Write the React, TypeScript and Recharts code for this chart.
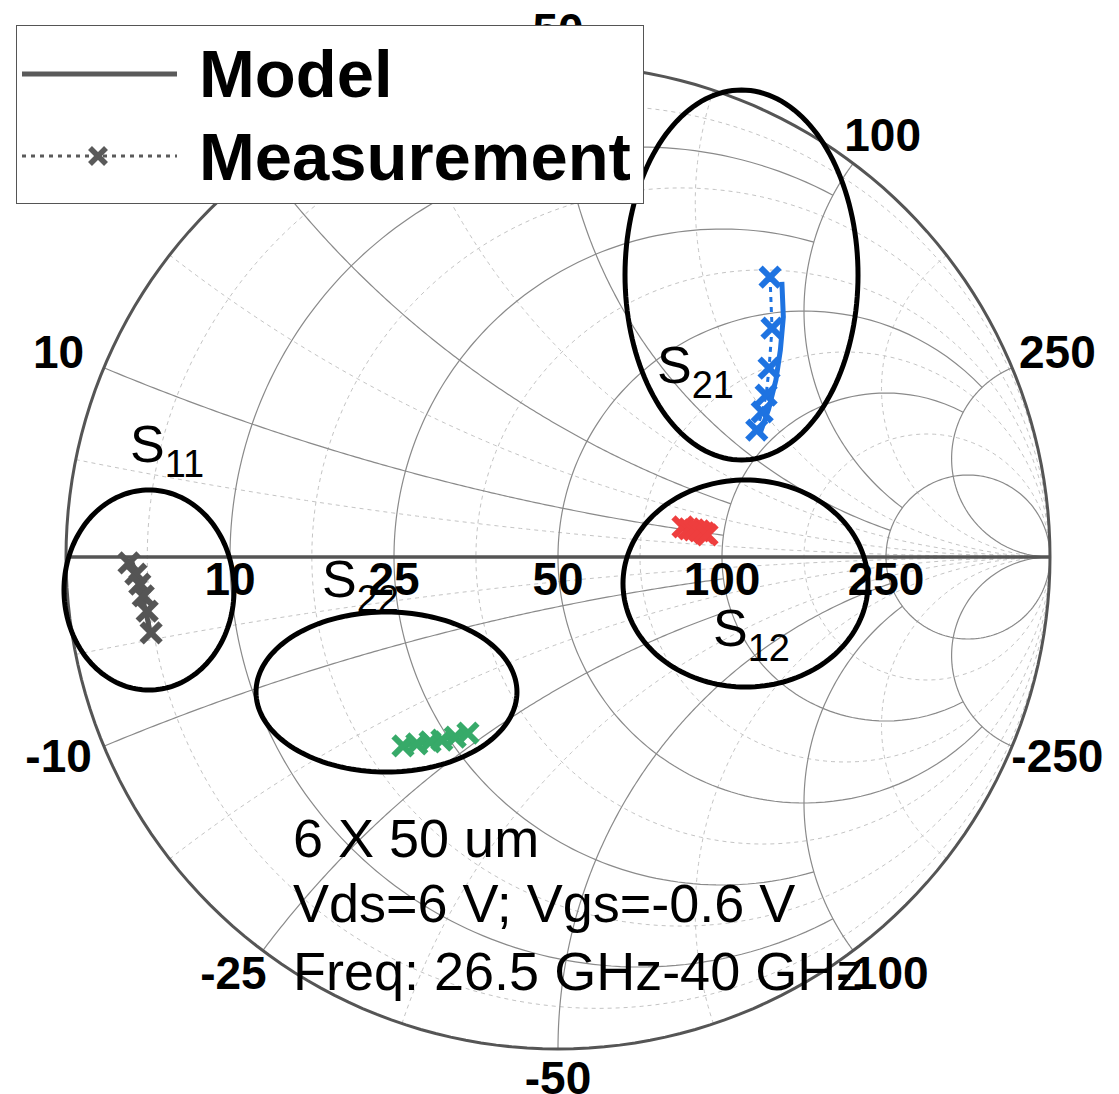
import React from "react";
import { ScatterChart, Scatter, XAxis, YAxis } from "recharts";

const FONT = "'Liberation Sans', Arial, Helvetica, sans-serif";

// chart frame: reflection-coefficient plane, 492 px per unit, centre at (550, 549)
const W = 1111;
const H = 1086;
const UNIT = 492;
const X_DOMAIN = [-550 / UNIT, (W - 550) / UNIT];
const Y_DOMAIN = [-(H - 549) / UNIT, 549 / UNIT];

// Smith grid (normalised to Z0 = 50 ohm)
const Z0 = 50;
const majorValues = [0.2, 0.5, 1, 2, 5];
const majorStop = [2, 2, 5, 5, Infinity]; // where each major circle/arc is cut off
const minorResist = [0.09, 0.333, 0.714, 1.4, 3];
const minorReact = [0.1, 0.343, 0.72, 1.387, 2.92];
const tickOhms = [10, 25, 50, 100, 250];

// S-parameters, 26.5 GHz - 40 GHz, [re, im]
const s11Meas = [
  [-0.872, -0.012], [-0.858, -0.035], [-0.85, -0.055],
  [-0.843, -0.079], [-0.835, -0.11], [-0.827, -0.154],
];
const s11Model = [
  [-0.866, -0.01], [-0.857, -0.038], [-0.849, -0.066],
  [-0.842, -0.095], [-0.835, -0.124], [-0.829, -0.152],
];
const s21Meas = [
  [0.431, 0.569], [0.435, 0.465], [0.429, 0.384],
  [0.423, 0.329], [0.415, 0.295], [0.404, 0.258],
];
const s21Model = [
  [0.455, 0.559], [0.458, 0.488], [0.452, 0.421],
  [0.443, 0.36], [0.428, 0.3], [0.411, 0.252],
];
const s12Meas = [
  [0.254, 0.061], [0.266, 0.057], [0.276, 0.055],
  [0.287, 0.053], [0.297, 0.049], [0.303, 0.045],
];
const s12Model = [
  [0.252, 0.062], [0.265, 0.058], [0.277, 0.055],
  [0.288, 0.052], [0.298, 0.049], [0.306, 0.046],
];
const s22Meas = [
  [-0.315, -0.384], [-0.287, -0.38], [-0.26, -0.376],
  [-0.236, -0.372], [-0.209, -0.366], [-0.183, -0.358],
];
const s22Model = [
  [-0.312, -0.382], [-0.285, -0.379], [-0.259, -0.375],
  [-0.234, -0.37], [-0.208, -0.364], [-0.184, -0.358],
];

const GRAY = "#555555";
const BLUE = "#1e73e1";
const RED = "#ee3e3e";
const GREEN = "#37aa69";

// group outlines (centre, radii in reflection units)
const groupRings = [
  { cx: -0.8313, cy: -0.0671, rx: 0.1728, ry: 0.2033 },
  { cx: 0.373, cy: 0.5732, rx: 0.2368, ry: 0.376 },
  { cx: 0.3811, cy: -0.0539, rx: 0.249, ry: 0.2104 },
  { cx: -0.3486, cy: -0.2744, rx: 0.2652, ry: 0.1626 },
];
const groupTags = [
  { x: -0.8699, y: 0.1931, main: "S", sub: "11" },
  { x: 0.2012, y: 0.3537, main: "S", sub: "21" },
  { x: 0.315, y: -0.1809, main: "S", sub: "12" },
  { x: -0.4797, y: -0.0813, main: "S", sub: "22" },
];
const notes = [
  { x: -0.5386, y: -0.6098, text: "6 X 50 um" },
  { x: -0.5386, y: -0.7419, text: "Vds=6 V; Vgs=-0.6 V" },
  { x: -0.5386, y: -0.8801, text: "Freq: 26.5 GHz-40 GHz" },
];

type Pt = { x: number; y: number; text?: string };
const N = 200;

function toGamma(r: number, x: number): Pt {
  const den = (r + 1) * (r + 1) + x * x;
  return { x: (r * r - 1 + x * x) / den, y: (2 * x) / den };
}

function resistanceCircle(r: number, xMax: number): Pt[] {
  const pts: Pt[] = [];
  if (!isFinite(xMax)) {
    const c = r / (1 + r);
    const rad = 1 / (1 + r);
    for (let i = 0; i <= N; i++) {
      const a = (2 * Math.PI * i) / N;
      pts.push({ x: c + rad * Math.cos(a), y: rad * Math.sin(a) });
    }
    return pts;
  }
  const t = Math.atan(xMax);
  for (let i = 0; i <= N; i++) pts.push(toGamma(r, Math.tan(-t + (2 * t * i) / N)));
  return pts;
}

function reactanceArc(x: number, rMax: number): Pt[] {
  const sMax = isFinite(rMax) ? Math.atan(rMax) : (Math.PI / 2) * 0.9995;
  const pts: Pt[] = [];
  for (let i = 0; i <= N; i++) pts.push(toGamma(Math.tan((sMax * i) / N), x));
  return pts;
}

function ring(e: { cx: number; cy: number; rx: number; ry: number }): Pt[] {
  const pts: Pt[] = [];
  for (let i = 0; i <= 160; i++) {
    const a = (2 * Math.PI * i) / 160;
    pts.push({ x: e.cx + e.rx * Math.cos(a), y: e.cy + e.ry * Math.sin(a) });
  }
  return pts;
}

const toPts = (arr: number[][]): Pt[] => arr.map(([x, y]) => ({ x, y }));

const outerCircle = resistanceCircle(0, Infinity);
const realAxis: Pt[] = [{ x: -1, y: 0 }, { x: 1, y: 0 }];

// labels round the rim for the reactance values, pushed outward from where each arc meets the rim
const rimLabels: Pt[] = [];
tickOhms.forEach((ohm) => {
  [1, -1].forEach((sgn) => {
    const g = toGamma(0, (sgn * ohm) / Z0);
    const th = Math.atan2(g.y, g.x);
    rimLabels.push({
      x: g.x + (49 * Math.cos(th)) / UNIT,
      y: g.y + (32 * Math.sin(th) + 3.5) / UNIT,
      text: String(sgn * ohm),
    });
  });
});
const axisLabels: Pt[] = tickOhms.map((ohm) => ({
  x: (ohm / Z0 - 1) / (ohm / Z0 + 1),
  y: 0,
  text: String(ohm),
}));

const noDot = () => <g />;

const cross = (color: string, s = 9.5, w = 6) => (props: any) => {
  const { cx, cy } = props;
  return (
    <g stroke={color} strokeWidth={w}>
      <line x1={cx - s} y1={cy - s} x2={cx + s} y2={cy + s} />
      <line x1={cx - s} y1={cy + s} x2={cx + s} y2={cy - s} />
    </g>
  );
};

const rimText = (props: any) => (
  <text
    x={props.cx}
    y={props.cy + 16.5}
    textAnchor="middle"
    fontFamily={FONT}
    fontWeight="bold"
    fontSize={46}
    fill="#000"
  >
    {props.payload.text}
  </text>
);

const axisText = (props: any) => (
  <text
    x={props.cx}
    y={props.cy + 38}
    textAnchor="middle"
    fontFamily={FONT}
    fontWeight="bold"
    fontSize={46}
    fill="#000"
  >
    {props.payload.text}
  </text>
);

const tagText = (props: any) => (
  <text x={props.cx} y={props.cy} fontFamily={FONT} fontSize={52} fill="#000">
    {props.payload.main}
    <tspan dy={15} fontSize={38}>
      {props.payload.sub}
    </tspan>
  </text>
);

const noteText = (props: any) => (
  <text x={props.cx} y={props.cy} fontFamily={FONT} fontSize={54} fill="#000">
    {props.payload.text}
  </text>
);

const curve = (key: string, data: Pt[], stroke: string, width: number, dash?: string) => (
  <Scatter
    key={key}
    data={data}
    fill="none"
    line={{ stroke, strokeWidth: width, strokeDasharray: dash, fill: "none" }}
    shape={noDot}
    isAnimationActive={false}
  />
);

const series = [
  { name: "s11", meas: s11Meas, model: s11Model, color: GRAY },
  { name: "s21", meas: s21Meas, model: s21Model, color: BLUE },
  { name: "s12", meas: s12Meas, model: s12Model, color: RED },
  { name: "s22", meas: s22Meas, model: s22Model, color: GREEN },
];

export default function App() {
  return (
    <div style={{ position: "relative", width: W, height: H }}>
      <ScatterChart width={W} height={H} margin={{ top: 0, right: 0, bottom: 0, left: 0 }}>
        <XAxis type="number" dataKey="x" domain={X_DOMAIN} hide allowDataOverflow />
        <YAxis type="number" dataKey="y" domain={Y_DOMAIN} hide allowDataOverflow />

        {minorResist.map((r) => curve(`mr${r}`, resistanceCircle(r, Infinity), "#c4c4c4", 1, "4 4"))}
        {minorReact.map((x) => curve(`mxp${x}`, reactanceArc(x, Infinity), "#c4c4c4", 1, "4 4"))}
        {minorReact.map((x) => curve(`mxn${x}`, reactanceArc(-x, Infinity), "#c4c4c4", 1, "4 4"))}

        {majorValues.map((r, i) => curve(`r${r}`, resistanceCircle(r, majorStop[i]), "#8a8a8a", 1.2))}
        {majorValues.map((x, i) => curve(`xp${x}`, reactanceArc(x, majorStop[i]), "#8a8a8a", 1.2))}
        {majorValues.map((x, i) => curve(`xn${x}`, reactanceArc(-x, majorStop[i]), "#8a8a8a", 1.2))}

        {curve("outer", outerCircle, "#555555", 3)}
        {curve("axis", realAxis, "#555555", 3.5)}

        {series.map((s) => curve(`model-${s.name}`, toPts(s.model), s.color, 5))}
        {series.map((s) => (
          <Scatter
            key={`meas-${s.name}`}
            data={toPts(s.meas)}
            fill="none"
            line={{ stroke: s.color, strokeWidth: 3, strokeDasharray: "5 5", fill: "none" }}
            shape={cross(s.color)}
            isAnimationActive={false}
          />
        ))}

        {groupRings.map((e, i) => curve(`ring${i}`, ring(e), "#000000", 5))}

        <Scatter data={rimLabels} fill="none" shape={rimText} isAnimationActive={false} />
        <Scatter data={axisLabels} fill="none" shape={axisText} isAnimationActive={false} />
        <Scatter data={groupTags} fill="none" shape={tagText} isAnimationActive={false} />
        <Scatter data={notes} fill="none" shape={noteText} isAnimationActive={false} />
      </ScatterChart>

      <svg
        width={628}
        height={179}
        style={{ position: "absolute", left: 8, top: 17 }}
        fontFamily={FONT}
      >
        <rect x={0.5} y={0.5} width={627} height={178} fill="#fff" stroke="#555" strokeWidth={1} />
        <line x1={6} y1={49} x2={161} y2={49} stroke="#5a5a5a" strokeWidth={5} />
        <text x={183} y={72} fontSize={67} fontWeight="bold" fill="#000">
          Model
        </text>
        <line x1={6} y1={131} x2={161} y2={131} stroke="#5a5a5a" strokeWidth={3} strokeDasharray="4 5" />
        <g stroke="#5a5a5a" strokeWidth={5.5}>
          <line x1={74} y1={123} x2={90} y2={139} />
          <line x1={74} y1={139} x2={90} y2={123} />
        </g>
        <text x={183} y={155} fontSize={67} fontWeight="bold" fill="#000">
          Measurement
        </text>
      </svg>
    </div>
  );
}
